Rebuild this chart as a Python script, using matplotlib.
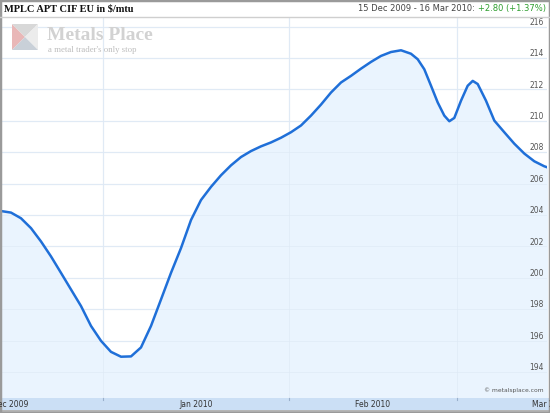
import matplotlib
matplotlib.use("Agg")
import matplotlib.pyplot as plt
import matplotlib.transforms as mtransforms
from matplotlib.patches import Rectangle, Polygon

# days after 15 Dec 2009 and price in $/mtu
days = [0, 1.67, 3.33, 5.0, 6.67, 8.33, 10.0, 11.67, 13.33, 15.0, 16.67,
        18.33, 20.0, 21.67, 23.33, 25.0, 26.67, 28.33, 30.0, 31.67, 33.33,
        35.0, 36.67, 38.33, 40.0, 41.67, 43.33, 45.0, 46.67, 48.33, 50.0,
        51.67, 53.33, 55.0, 56.67, 58.33, 60.0, 61.67, 63.33, 65.0, 66.67,
        68.33, 69.45, 70.55, 71.67, 72.78, 73.88, 74.72, 75.55, 76.67, 77.78,
        78.62, 79.45, 80.83, 82.22, 83.88, 85.55, 87.22, 88.88, 90.55, 91.38]
prices = [204.25, 204.15, 203.79, 203.16, 202.31, 201.36, 200.31, 199.25,
          198.20, 196.93, 195.98, 195.28, 194.97, 194.99, 195.56, 196.93,
          198.62, 200.31, 201.89, 203.68, 204.95, 205.79, 206.53, 207.16,
          207.69, 208.07, 208.37, 208.62, 208.92, 209.27, 209.70, 210.33,
          211.03, 211.80, 212.44, 212.86, 213.32, 213.75, 214.13, 214.38,
          214.49, 214.27, 213.92, 213.28, 212.23, 211.17, 210.33, 209.97,
          210.18, 211.28, 212.23, 212.54, 212.34, 211.28, 210.01, 209.27,
          208.54, 207.91, 207.42, 207.10, 206.99]

y_ticks = [194, 196, 198, 200, 202, 204, 206, 208, 210, 212, 214, 216]
month_starts = [17, 48, 76]  # 1 Jan, 1 Feb, 1 Mar
month_labels = ["Dec 2009", "Jan 2010", "Feb 2010", "Mar 2010"]
month_centers = [1.5, 32.5, 62, 91.5]

title = "MPLC APT CIF EU in $/mtu"
range_text = "15 Dec 2009 - 16 Mar 2010: "
change_text = "+2.80 (+1.37%)"

W, H = 550, 413
line_col = "#1f6fd8"
fill_col = "#eaf4fe"
grid_col = "#e6edf6"
band_col = "#cbdff5"


def fx(px):
    return px / W


def fy(py):
    return 1 - py / H


fig = plt.figure(figsize=(W / 100, H / 100), dpi=100)
fig.patch.set_facecolor("white")

ymin, ymax = 192.34, 216.61
ax = fig.add_axes([fx(1), fy(398), 546 / W, (398 - 17) / H])
ax.set_xlim(0, 91)
ax.set_ylim(ymin, ymax)
ax.set_facecolor("white")
for s in ax.spines.values():
    s.set_visible(False)
ax.set_xticks([])
ax.set_yticks([])

for v in y_ticks:
    ax.axhline(v, color=grid_col, lw=0.9, zorder=1)
for d in month_starts:
    ax.axvline(d, color=grid_col, lw=0.9, zorder=1)

ax.fill_between(days, prices, ymin, color=fill_col, lw=0, zorder=2)
for v in y_ticks:
    ax.axhline(v, color="#dde8f5", lw=0.7, zorder=2.5, alpha=0.6)
for d in month_starts:
    ax.axvline(d, color="#dde8f5", lw=0.7, zorder=2.5, alpha=0.6)
ax.plot(days, prices, color=line_col, lw=1.8, solid_joinstyle="round",
        solid_capstyle="round", zorder=3)

ytrans = mtransforms.blended_transform_factory(ax.transAxes, ax.transData)
for v in y_ticks:
    ax.text(1 - 3 / 546, v + 0.27, str(v), transform=ytrans, ha="right",
            va="center", fontsize=5.5, color="#555555", zorder=4)

ax.text(1 - 3 / 546, 0.012, "\u00a9 metalsplace.com", transform=ax.transAxes,
        ha="right", va="bottom", fontsize=4.3, color="#555555", zorder=4)

# x axis band
fig.patches.append(Rectangle((0, fy(410)), 1, 12 / H, transform=fig.transFigure,
                             facecolor=band_col, edgecolor="none", zorder=0))
xtrans = mtransforms.blended_transform_factory(ax.transData, fig.transFigure)
for c, lab in zip(month_centers, month_labels):
    fig.text(c, fy(404.5), lab, transform=xtrans,
             ha="center", va="center", fontsize=5.5, color="#333333")
for d in month_starts:
    fig.lines.append(plt.Line2D([d, d], [fy(398), fy(400)], transform=xtrans,
                                color="#9ab0cc", lw=0.8))

# bottom and outer frame
fig.patches.append(Rectangle((0, 0), 1, 3 / H, transform=fig.transFigure,
                             facecolor="#b5b5b5", edgecolor="none"))
fig.patches.append(Rectangle((0, 0), 1, 1, transform=fig.transFigure,
                             facecolor="none", edgecolor="#9a9a9a", lw=2.5))

# header
fig.lines.append(plt.Line2D([0, 1], [fy(16.5), fy(16.5)], transform=fig.transFigure,
                            color="#cfcfcf", lw=1))
fig.text(fx(4), fy(9), title, ha="left", va="center", fontsize=7.5,
         family="Liberation Serif", weight="bold", color="#111111")
t2 = fig.text(fx(546), fy(8.5), change_text, ha="right", va="center",
              fontsize=6, color="#2e9e2e")
fig.canvas.draw()
bb = t2.get_window_extent()
fig.text(bb.x0 / fig.bbox.width, fy(8.5), range_text, ha="right", va="center",
         fontsize=6, color="#444444")

# watermark logo
icon = [(12, 24), (38, 24), (38, 50), (12, 50)]
cx, cy = 25, 37
tri = [([icon[0], icon[3], (cx, cy)], "#e9b7b7"),
       ([icon[0], icon[1], (cx, cy)], "#d8d8d8"),
       ([icon[1], icon[2], (cx, cy)], "#ececec"),
       ([icon[2], icon[3], (cx, cy)], "#c9d0d8")]
for pts, col in tri:
    fig.patches.append(Polygon([(fx(a), fy(b)) for a, b in pts], closed=True,
                               transform=fig.transFigure, facecolor=col,
                               edgecolor="none", zorder=5))
fig.text(fx(47), fy(35), "Metals Place", ha="left", va="center", fontsize=14,
         family="Liberation Serif", weight="bold", color="#d2d2d2", zorder=5)
fig.text(fx(48), fy(50), "a metal trader's only stop", ha="left", va="center",
         fontsize=6.3, family="Liberation Serif", color="#bdbdbd", zorder=5)

fig.savefig("out.png", dpi=100)
